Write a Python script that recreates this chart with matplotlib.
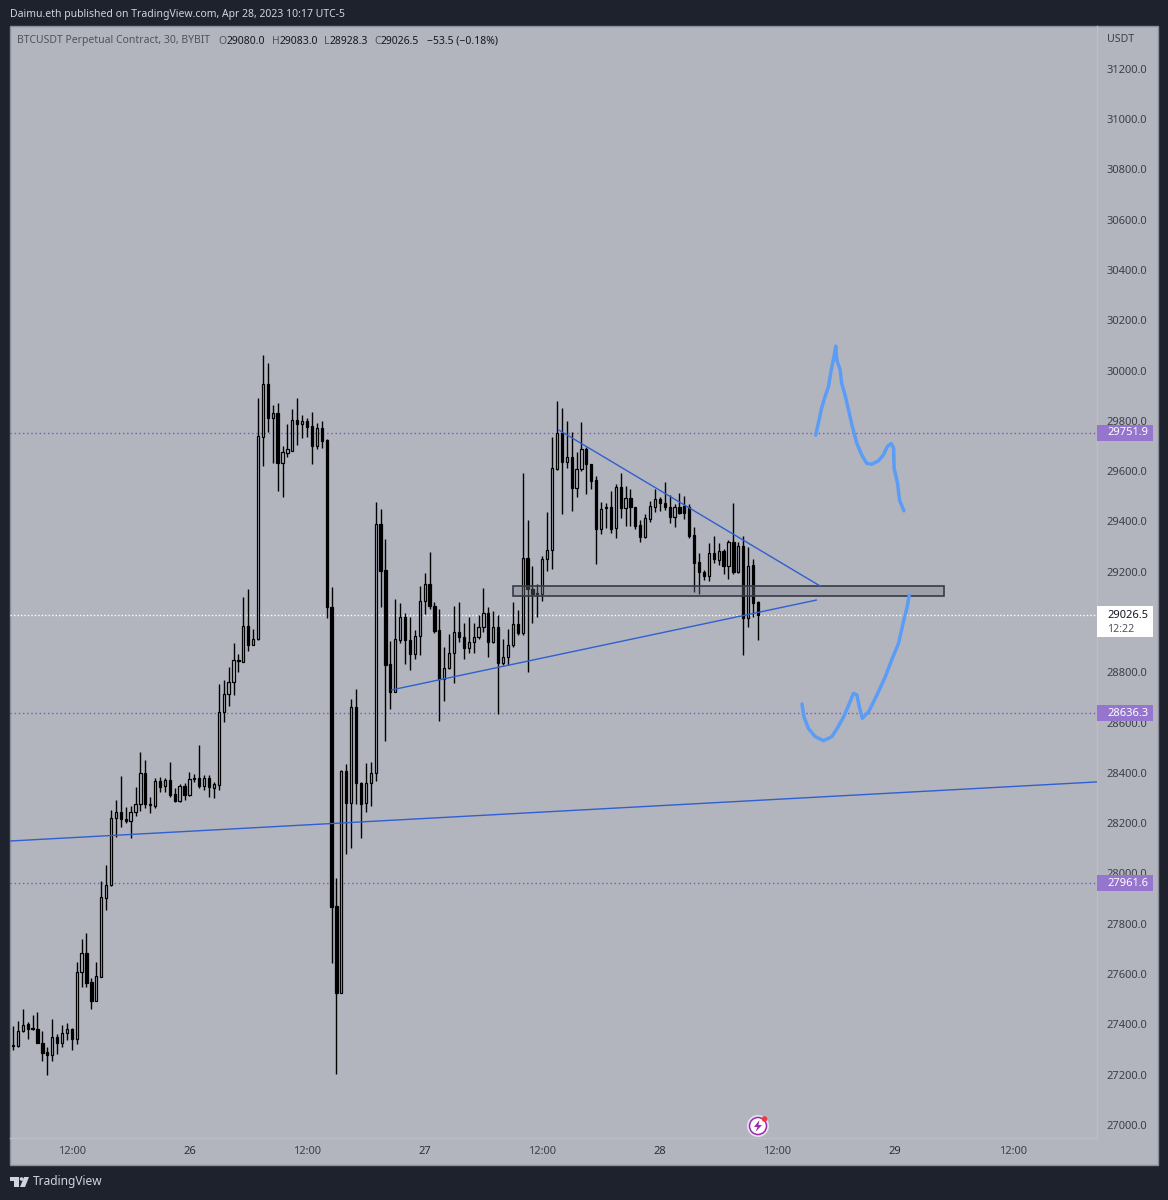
# -*- coding: utf-8 -*-
import numpy as np
import matplotlib
matplotlib.use('Agg')
import matplotlib.pyplot as plt
from matplotlib.patches import Rectangle, Circle, Polygon
from matplotlib.transforms import IdentityTransform

plt.rcParams['font.family'] = ['Noto Sans', 'DejaVu Sans']

#%% candles, 30 min bars

opens = [27317, 27314, 27374, 27400, 27384, 27383, 27327, 27289, 27280, 27349,
         27327, 27365, 27380, 27343, 27607, 27683, 27567, 27494, 27590, 27904,
         27953, 28219, 28243, 28217, 28210, 28243, 28275, 28398, 28275, 28268,
         28369, 28348, 28372, 28315, 28288, 28349, 28312, 28380, 28380, 28349,
         28380, 28339, 28352, 28642, 28714, 28761, 28847, 28842, 28984, 28907,
         28931, 29737, 29946, 29810, 29830, 29631, 29673, 29681, 29803, 29787,
         29799, 29779, 29701, 29770, 29724, 29061, 27871, 27526, 28408, 28281,
         28661, 28359, 28279, 28359, 28398, 29388, 29207, 28832, 28720, 28928,
         29021, 28928, 28873, 28944, 29083, 29150, 29064, 28968, 28773, 28816,
         28875, 28959, 28939, 28895, 28919, 28939, 28979, 29034, 28919, 28979,
         28838, 28862, 28908, 28991, 28955, 29253, 29130, 29114, 29111, 29249,
         29286, 29608, 29750, 29637, 29657, 29534, 29607, 29688, 29627, 29565,
         29368, 29452, 29456, 29372, 29538, 29452, 29494, 29456, 29386, 29339,
         29409, 29456, 29489, 29474, 29458, 29416, 29458, 29461, 29458, 29346,
         29237, 29200, 29184, 29273, 29246, 29283, 29224, 29319, 29198, 29303,
         29015, 29227, 29080]
highs = [27395, 27415, 27460, 27411, 27437, 27448, 27375, 27309, 27421, 27361,
         27398, 27404, 27384, 27649, 27738, 27765, 27583, 27647, 27971, 28034,
         28252, 28292, 28389, 28266, 28268, 28343, 28482, 28451, 28305, 28378,
         28385, 28378, 28442, 28339, 28355, 28359, 28402, 28396, 28511, 28392,
         28392, 28363, 28753, 28769, 28822, 28918, 28873, 29098, 29130, 28971,
         29892, 30062, 30028, 29863, 29869, 29700, 29787, 29846, 29892, 29823,
         29810, 29835, 29790, 29799, 29726, 29138, 27983, 28411, 28434, 28693,
         28734, 28365, 28438, 28442, 29478, 29448, 29329, 28926, 29090, 29074,
         29034, 29021, 28968, 29143, 29194, 29277, 29081, 29050, 28899, 28952,
         29065, 29078, 28997, 29019, 28995, 29028, 29134, 29061, 29044, 29028,
         28932, 28971, 29078, 29048, 29591, 29405, 29223, 29151, 29264, 29436,
         29737, 29880, 29850, 29799, 29754, 29675, 29794, 29697, 29630, 29580,
         29476, 29474, 29521, 29547, 29591, 29541, 29529, 29458, 29405, 29429,
         29481, 29527, 29498, 29558, 29505, 29468, 29514, 29501, 29469, 29376,
         29275, 29207, 29313, 29343, 29313, 29289, 29326, 29472, 29319, 29343,
         29299, 29250, 29083]
lows = [27298, 27311, 27371, 27341, 27378, 27325, 27256, 27200, 27256, 27282,
        27309, 27338, 27298, 27322, 27547, 27547, 27462, 27493, 27590, 27855,
        27950, 28146, 28186, 28200, 28141, 28230, 28250, 28260, 28239, 28260,
        28325, 28325, 28303, 28285, 28285, 28292, 28309, 28363, 28341, 28332,
        28305, 28299, 28332, 28602, 28666, 28710, 28801, 28840, 28886, 28907,
        28929, 29620, 29757, 29631, 29522, 29498, 29655, 29681, 29704, 29730,
        29737, 29627, 29688, 29691, 29017, 27643, 27202, 27524, 28077, 28100,
        28276, 28140, 28244, 28268, 28369, 29061, 28528, 28653, 28720, 28915,
        28833, 28809, 28852, 28869, 29032, 29052, 28955, 28607, 28686, 28812,
        28756, 28922, 28853, 28877, 28875, 28931, 28961, 28860, 28915, 28633,
        28830, 28829, 28900, 28948, 28950, 28802, 28995, 29021, 29083, 29204,
        29211, 29606, 29429, 29613, 29441, 29498, 29600, 29509, 29529, 29231,
        29350, 29372, 29355, 29335, 29415, 29383, 29383, 29368, 29319, 29332,
        29399, 29438, 29442, 29445, 29392, 29376, 29429, 29409, 29333, 29118,
        29110, 29167, 29164, 29233, 29227, 29190, 29171, 29190, 29195, 28869,
        28981, 29021, 28928.3]
closes = [27314, 27375, 27398, 27380, 27380, 27327, 27287, 27280, 27349, 27327,
          27367, 27380, 27341, 27610, 27683, 27563, 27494, 27592, 27905, 27955,
          28221, 28243, 28215, 28210, 28243, 28275, 28398, 28275, 28272, 28369,
          28345, 28372, 28312, 28288, 28349, 28312, 28376, 28376, 28348, 28378,
          28343, 28355, 28642, 28714, 28761, 28849, 28843, 28984, 28907, 28934,
          29739, 29946, 29810, 29830, 29631, 29677, 29687, 29803, 29787, 29799,
          29774, 29701, 29770, 29721, 29061, 27868, 27526, 28408, 28281, 28661,
          28359, 28276, 28359, 28398, 29388, 29204, 28829, 28723, 28932, 29021,
          28928, 28873, 28944, 29085, 29150, 29064, 28965, 28773, 28816, 28875,
          28959, 28939, 28895, 28919, 28939, 28981, 29034, 28919, 28979, 28838,
          28862, 28908, 28991, 28955, 29253, 29130, 29111, 29111, 29249, 29286,
          29611, 29750, 29637, 29657, 29534, 29607, 29688, 29627, 29562, 29368,
          29449, 29456, 29368, 29535, 29452, 29492, 29456, 29382, 29339, 29412,
          29461, 29488, 29474, 29456, 29419, 29458, 29432, 29432, 29342, 29236,
          29200, 29184, 29273, 29249, 29283, 29224, 29319, 29198, 29303, 29015,
          29224, 29074, 29026.5]

price_ticks = np.arange(27000, 31400, 200)
time_ticks = [12, 36, 60, 84, 108, 132, 156, 180, 204]
time_labels = ['12:00', '26', '12:00', '27', '12:00', '28', '12:00', '29', '12:00']

# levels and drawings on the chart (bar index, price)
level_prices = [29751.9, 28636.3, 27961.6]
last_price = 29026.5
long_line_x = [-0.6, 221.2]
long_line_y = [28129, 28364]
upper_line_x = [111.4, 164.7]
upper_line_y = [29763, 29143]
lower_line_x = [77.3, 163.9]
lower_line_y = [28730, 29087]
zone_x = [102, 190]
zone_y = [29103, 29143]

up_path_x = [163.8, 164.4, 165, 165.7, 166.4, 166.9, 167.4, 167.9, 168.1, 168.8,
             169.1, 169.8, 170.5, 171.2, 172.2, 173.2, 174.2, 175.2, 176.6, 177.6,
             178.4, 179.2, 179.7, 179.8, 180.5, 180.9, 181.8]
up_path_y = [29743, 29796, 29850, 29896, 29935, 29995, 30042, 30097, 30042, 30002,
             29949, 29902, 29843, 29783, 29710, 29664, 29631, 29627, 29641, 29664,
             29697, 29710, 29691, 29611, 29551, 29485, 29442]
down_path_x = [161, 161.4, 162.3, 163.7, 165.4, 167.1, 168.4, 169.5, 170.7, 171.5,
               172.2, 172.7, 173.3, 174.6, 176.3, 178, 179.3, 180.7, 181.7, 182.4,
               182.9]
down_path_y = [28674, 28623, 28577, 28544, 28528, 28544, 28584, 28623, 28677, 28716,
               28710, 28663, 28617, 28643, 28710, 28782, 28849, 28915, 29001, 29054,
               29107]

#%% colours

page_col = '#1e222d'
panel_col = '#b2b5be'
text_col = '#3c3f4a'
purple = '#9575cd'
level_col = '#7e57c2'
line_blue = '#2f5fd0'
pen_blue = '#5b9cf6'

W, H = 1168, 1200

fig = plt.figure(figsize=(W/100, H/100), dpi=100, facecolor=page_col)


def px(x, y):
    return x/W, 1 - y/H


# panel behind the chart and both axes
fig.add_artist(Rectangle(px(10, 1165), 1148/W, 1139/H, transform=fig.transFigure,
                         facecolor=panel_col, edgecolor='#8b8e98', linewidth=1, zorder=-1))

ax = fig.add_axes([10/W, (H-1138)/H, 1087/W, 1112/H])
ax.patch.set_alpha(0)
ax.set_xlim(-0.61, 221.2)
ax.set_ylim(26948, 31370)

for s in ['top', 'left']:
    ax.spines[s].set_visible(False)
for s in ['right', 'bottom']:
    ax.spines[s].set_color('#bcbfc7')
    ax.spines[s].set_linewidth(1)

ax.yaxis.tick_right()
ax.set_yticks(price_ticks)
ax.set_yticklabels(['%.1f' % p for p in price_ticks])
ax.set_xticks(time_ticks)
ax.set_xticklabels(time_labels)
ax.tick_params(axis='y', length=0, pad=7, labelsize=8, labelcolor=text_col)
ax.tick_params(axis='x', length=0, pad=6, labelsize=8, labelcolor=text_col)
for lab in ax.get_xticklabels():
    if ':' not in lab.get_text():
        lab.set_fontweight('bold')
        lab.set_color('#2a2e39')

#%% levels

for p in level_prices:
    ax.axhline(p, color=level_col, linestyle=(0, (1, 2)), linewidth=1, zorder=1)
ax.axhline(last_price, color='white', linestyle=(0, (1, 1.5)), linewidth=1, zorder=1)

#%% candles

x = np.arange(len(opens))
o = np.array(opens, dtype=float)
h = np.array(highs, dtype=float)
l = np.array(lows, dtype=float)
c = np.array(closes, dtype=float)
up = c >= o

ax.vlines(x, l, h, color='black', linewidth=1, zorder=2)
ax.bar(x[up], (c - o)[up], bottom=o[up], width=0.46, facecolor=panel_col,
       edgecolor='black', linewidth=0.9, zorder=3)
ax.bar(x[~up], (c - o)[~up], bottom=o[~up], width=0.46, facecolor='black',
       edgecolor='black', linewidth=0.9, zorder=3)

#%% drawings

ax.add_patch(Rectangle((zone_x[0], zone_y[0]), zone_x[1] - zone_x[0], zone_y[1] - zone_y[0],
                       facecolor='#787b86', alpha=0.35, zorder=4))
ax.add_patch(Rectangle((zone_x[0], zone_y[0]), zone_x[1] - zone_x[0], zone_y[1] - zone_y[0],
                       facecolor='none', edgecolor='#363a45', linewidth=1.2, zorder=4))
ax.plot(long_line_x, long_line_y, color=line_blue, linewidth=1, zorder=5)
ax.plot(upper_line_x, upper_line_y, color=line_blue, linewidth=1, zorder=5)
ax.plot(lower_line_x, lower_line_y, color=line_blue, linewidth=1, zorder=5)
ax.plot(up_path_x, up_path_y, color=pen_blue, linewidth=2.5, solid_capstyle='round',
        solid_joinstyle='round', zorder=5)
ax.plot(down_path_x, down_path_y, color=pen_blue, linewidth=2.5, solid_capstyle='round',
        solid_joinstyle='round', zorder=5)

#%% price labels on the scale

trans = ax.get_yaxis_transform()
box_w = 56/1087
for p in level_prices:
    ax.add_patch(Rectangle((1, p - 32), box_w, 64, transform=trans, facecolor=purple,
                           edgecolor='none', clip_on=False, zorder=10))
    ax.text(1 + 10/1087, p, '%.1f' % p, transform=trans, color='white', fontsize=8,
            fontweight='bold', va='center', ha='left', zorder=11, clip_on=False)

ax.add_patch(Rectangle((1, last_price - 88), box_w, 124, transform=trans, facecolor='white',
                       edgecolor='none', clip_on=False, zorder=10))
ax.text(1 + 10/1087, last_price, '%.1f' % last_price, transform=trans, color='#131722',
        fontsize=8, va='center', ha='left', zorder=11, clip_on=False)
ax.text(1 + 10/1087, last_price - 57, '12:22', transform=trans, color='#50535e',
        fontsize=7.6, va='center', ha='left', zorder=11, clip_on=False)

#%% header and footer text

fig.text(*px(10, 14), 'Daimu.eth published on TradingView.com, Apr 28, 2023 10:17 UTC-5',
         color='#d1d4dc', fontsize=7.5, va='center')
fig.text(*px(17, 41), 'BTCUSDT Perpetual Contract, 30, BYBIT', color='#50535e', fontsize=7.5, va='center')

legend_bits = [(218, 'O', '#50535e'), (226.5, '29080.0', '#131722'),
               (272, 'H', '#50535e'), (279.5, '29083.0', '#131722'),
               (324, 'L', '#50535e'), (330, '28928.3', '#131722'),
               (374, 'C', '#50535e'), (381, '29026.5', '#131722'),
               (427, '\u221253.5 (\u22120.18%)', '#131722')]
for bx, bit, col in legend_bits:
    fig.text(*px(bx, 41), bit, color=col, fontsize=7.5, va='center')

fig.text(*px(1107, 39), 'USDT', color=text_col, fontsize=7.6, va='center')
fig.text(*px(33, 1182), 'TradingView', color='#d1d4dc', fontsize=8.6, va='center')

# logo
tv = IdentityTransform()
fig.add_artist(Polygon([(10, H-1177), (19, H-1177), (19, H-1187), (14, H-1187), (14, H-1181), (10, H-1181)],
                       transform=tv, facecolor='#d1d4dc', edgecolor='none'))
fig.add_artist(Circle((21.5, H-1179), 1.8, transform=tv, facecolor='#d1d4dc', edgecolor='none'))
fig.add_artist(Polygon([(24, H-1177), (29, H-1177), (25, H-1187), (20, H-1187)],
                       transform=tv, facecolor='#d1d4dc', edgecolor='none'))

# news marker near the time axis
fig.add_artist(Circle((758, H-1126), 11, transform=tv, facecolor='#e4e3ea', edgecolor='none'))
fig.add_artist(Circle((758, H-1126), 8.5, transform=tv, facecolor='white', edgecolor='#9c27b0', linewidth=1.1))
fig.add_artist(Polygon([(759.5, H-1120), (754, H-1127), (757.5, H-1127), (755.5, H-1132),
                        (762, H-1125), (758.5, H-1125)],
                       transform=tv, facecolor='#9c27b0', edgecolor='none'))
fig.add_artist(Circle((764.5, H-1119), 2.8, transform=tv, facecolor='#f23645', edgecolor='none'))

fig.savefig('out.png', dpi=100, facecolor=page_col)
